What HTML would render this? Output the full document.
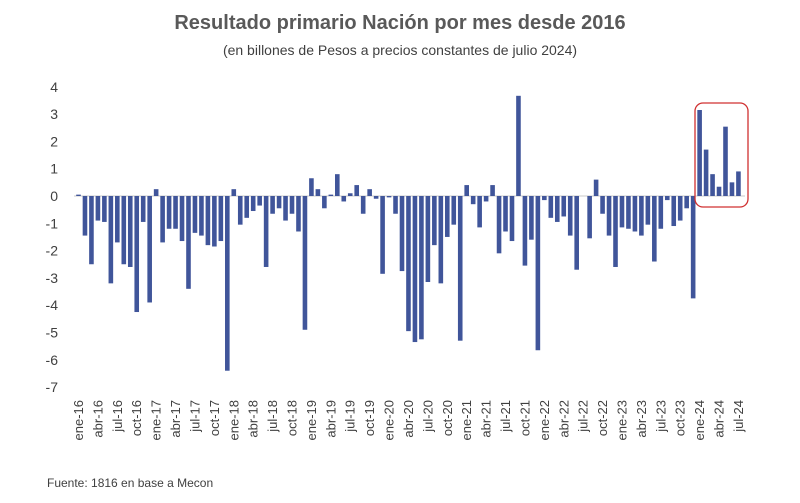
<!DOCTYPE html>
<html><head><meta charset="utf-8"><style>
body{margin:0;background:#fff;width:800px;height:498px;overflow:hidden;font-family:"Liberation Sans",sans-serif}
</style></head><body>
<svg width="800" height="498">
<text x="400" y="29" text-anchor="middle" font-size="20" font-weight="bold" fill="#595959">Resultado primario Nación por mes desde 2016</text>
<text x="400" y="55" text-anchor="middle" font-size="14" fill="#404040">(en billones de Pesos a precios constantes de julio 2024)</text>
<g id="yaxis"></g>
<g id="bars"></g>
<g id="xaxis"></g>
<rect x="695" y="103" width="53" height="104" rx="8" fill="none" stroke="#d03030" stroke-width="1.3"/>
<text x="47" y="487" font-size="12" fill="#404040">Fuente: 1816 en base a Mecon</text>
</svg>
<script>
const values=[0.05,-1.45,-2.5,-0.9,-0.95,-3.2,-1.7,-2.5,-2.6,-4.25,-0.95,-3.9,
0.25,-1.7,-1.2,-1.2,-1.65,-3.4,-1.35,-1.45,-1.8,-1.85,-1.65,-6.4,
0.25,-1.05,-0.8,-0.55,-0.35,-2.6,-0.65,-0.45,-0.9,-0.65,-1.3,-4.9,
0.65,0.25,-0.45,0.05,0.8,-0.2,0.1,0.4,-0.65,0.25,-0.1,-2.85,
-0.05,-0.65,-2.75,-4.95,-5.35,-5.25,-3.15,-1.8,-3.2,-1.5,-1.05,-5.3,
0.4,-0.3,-1.15,-0.2,0.4,-2.1,-1.3,-1.65,3.67,-2.55,-1.6,-5.65,
-0.15,-0.8,-0.95,-0.75,-1.45,-2.7,0,-1.55,0.6,-0.65,-1.45,-2.6,
-1.15,-1.2,-1.3,-1.45,-1.05,-2.4,-1.2,-0.15,-1.1,-0.9,-0.45,-3.75,
3.15,1.7,0.8,0.34,2.54,0.5,0.9];
const months=["ene","abr","jul","oct"];
const yTicks=[4,3,2,1,0,-1,-2,-3,-4,-5,-6,-7];
const NS="http://www.w3.org/2000/svg";
const y=v=>196-v*27.3;
const x=i=>78.5+i*6.47;
const ya=document.getElementById('yaxis'),bg=document.getElementById('bars'),xa=document.getElementById('xaxis');
yTicks.forEach(t=>{const e=document.createElementNS(NS,'text');


e.setAttribute('x',58);e.setAttribute('y',y(t)+5);e.setAttribute('text-anchor','end');e.setAttribute('font-size','14');e.setAttribute('fill','#404040');e.textContent=t;ya.appendChild(e);});
const zl=document.createElementNS(NS,'line');


zl.setAttribute('x1',74);zl.setAttribute('x2',745);zl.setAttribute('y1',y(0));zl.setAttribute('y2',y(0));zl.setAttribute('stroke','#c8c8c8');zl.setAttribute('stroke-width','1');ya.appendChild(zl);
values.forEach((v,i)=>{const r=document.createElementNS(NS,'rect');


r.setAttribute('x',x(i)-2.3);r.setAttribute('width',4.6);r.setAttribute('y',Math.min(y(v),y(0)));r.setAttribute('height',Math.abs(y(v)-y(0)));r.setAttribute('fill','#40559a');bg.appendChild(r);
if(i%3===0){const m=months[(i%12)/3],yr=16+Math.floor(i/12);const t=document.createElementNS(NS,'text');


const cx=x(i)+4.5;t.setAttribute('transform','translate('+cx+',400) rotate(-90)');t.setAttribute('text-anchor','end');t.setAttribute('font-size','13');t.setAttribute('fill','#404040');t.textContent=m+'-'+yr;xa.appendChild(t);}});
</script>
</body></html>
